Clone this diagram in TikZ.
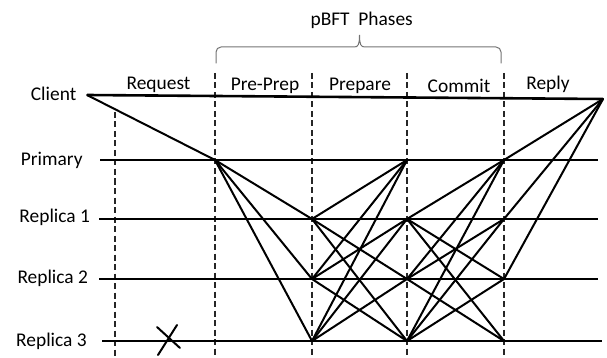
\documentclass[tikz,border=0pt]{standalone}
\usepackage{fontspec}
\setmainfont{Carlito}
\begin{document}
\begin{tikzpicture}[x=1pt,y=-1pt,
  lbl/.style={font=\fontsize{19.4}{22}\selectfont, text=black, inner sep=0pt},
  timeline/.style={line width=2.6pt, black},
  msg/.style={line width=2pt, black, line cap=round},
  phase/.style={line width=1.4pt, black!85, dash pattern=on 6pt off 3.5pt},
  brace/.style={line width=1pt, black!55}]
\useasboundingbox (0,0) rectangle (607,358);

% process names
\node[lbl, anchor=base west] (client)  at (30.7,100.7) {Client};
\node[lbl, anchor=base west] (primary) at (20.7,165.7) {Primary};
\node[lbl, anchor=base west] (rep1)    at (19.3,222.5) {Replica 1};
\node[lbl, anchor=base west] (rep2)    at (17.3,283.0) {Replica 2};
\node[lbl, anchor=base west] (rep3)    at (16.0,346.0) {Replica 3};

% phase names
\node[lbl, anchor=base] (tReq)  at (158.5,89.7) {Request};
\node[lbl, anchor=base] (tPre)  at (265.0,90.7) {Pre-Prep};
\node[lbl, anchor=base] (tPrep) at (360.0,90.7) {Prepare};
\node[lbl, anchor=base] (tCom)  at (459.0,92.3) {Commit};
\node[lbl, anchor=base] (tRep)  at (548.0,89.3) {Reply};
\node[lbl, anchor=base] (title) at (361.7,25.7) {pBFT\ \ Phases};

% brace over the three pBFT phases
\draw[brace] (216,63.5) -- (216,52) arc[start angle=180, end angle=270, radius=5]
  -- (354,47) .. controls (358,47) and (359.5,45) .. (359.5,35)
  .. controls (359.5,45) and (361,47) .. (365,47)
  -- (496,47) arc[start angle=270, end angle=360, radius=5] -- (501,63.5);

% phase boundaries
\draw[phase] (115,112) -- (115,358);
\foreach \x in {215,312,407,504}
  \draw[phase] (\x,73) -- (\x,358);

% time lines
\coordinate (cS) at (87,95);   \coordinate (cE) at (603,99);
\coordinate (pS) at (100,160); \coordinate (pE) at (598,160);
\coordinate (aS) at (99,219);  \coordinate (aE) at (598,219);
\coordinate (bS) at (99,279);  \coordinate (bE) at (598,279);
\coordinate (cS3) at (102,341); \coordinate (cE3) at (602,341);
\draw[timeline] (cS) -- (cE);
\draw[timeline] (pS) -- (pE);
\draw[timeline] (aS) -- (aE);
\draw[timeline] (bS) -- (bE);
\draw[timeline] (cS3) -- (cE3);

% message events
\coordinate (pA) at (215,160);
\foreach \n/\y in {p/160, r1/219, r2/279, r3/341} {
  \coordinate (\n B) at (312,\y);
  \coordinate (\n C) at (407,\y);
  \coordinate (\n D) at (504,\y);
}

% request
\draw[msg] (cS) -- (pA);
% pre-prepare
\foreach \t in {r1B,r2B,r3B} \draw[msg] (pA) -- (\t);
% prepare
\foreach \s/\t in {r1B/pC, r1B/r2C, r1B/r3C,
                   r2B/pC, r2B/r1C, r2B/r3C,
                   r3B/pC, r3B/r1C, r3B/r2C}
  \draw[msg] (\s) -- (\t);
% commit
\foreach \s/\t in {r1C/pD, r1C/r2D, r1C/r3D,
                   r2C/pD, r2C/r1D, r2C/r3D,
                   r3C/pD, r3C/r1D, r3C/r2D}
  \draw[msg] (\s) -- (\t);
% reply
\foreach \s in {pD,r1D,r2D} \draw[msg] (\s) -- (cE);

% faulty replica
\coordinate (xa) at (157,327); \coordinate (xb) at (180,348);
\coordinate (xc) at (177,325); \coordinate (xd) at (158,355);
\draw[msg] (xa) -- (xb);
\draw[msg] (xc) -- (xd);
\end{tikzpicture}
\end{document}
